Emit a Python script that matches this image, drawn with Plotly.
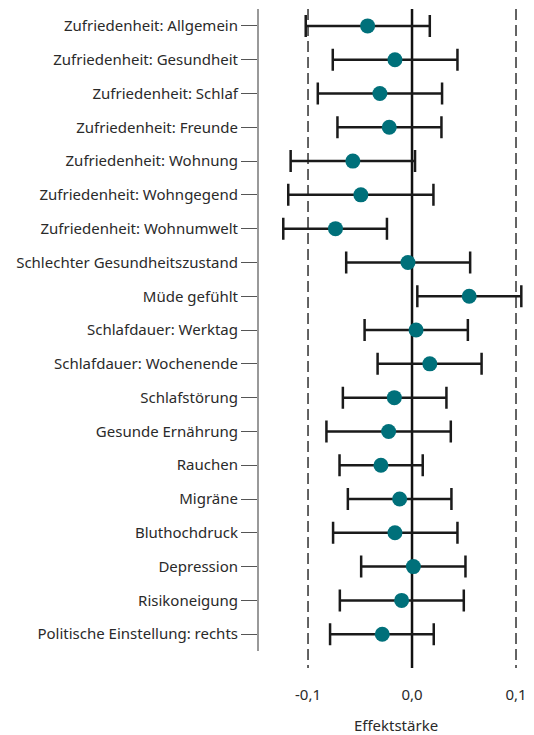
import plotly.graph_objects as go

labels = [
    "Zufriedenheit: Allgemein",
    "Zufriedenheit: Gesundheit",
    "Zufriedenheit: Schlaf",
    "Zufriedenheit: Freunde",
    "Zufriedenheit: Wohnung",
    "Zufriedenheit: Wohngegend",
    "Zufriedenheit: Wohnumwelt",
    "Schlechter Gesundheitszustand",
    "Müde gefühlt",
    "Schlafdauer: Werktag",
    "Schlafdauer: Wochenende",
    "Schlafstörung",
    "Gesunde Ernährung",
    "Rauchen",
    "Migräne",
    "Bluthochdruck",
    "Depression",
    "Risikoneigung",
    "Politische Einstellung: rechts",
]
estimate = [-0.0427, -0.0164, -0.0309, -0.0219, -0.0569, -0.0492, -0.0736,
            -0.0039, 0.0550, 0.0039, 0.0171, -0.0170, -0.0225, -0.0299,
            -0.0119, -0.0164, 0.0013, -0.0100, -0.0286]
lower = [-0.1022, -0.0762, -0.0906, -0.0717, -0.1167, -0.1190, -0.1238,
         -0.0633, 0.0051, -0.0456, -0.0331, -0.0665, -0.0823, -0.0697,
         -0.0617, -0.0759, -0.0489, -0.0694, -0.0788]
upper = [0.0171, 0.0437, 0.0289, 0.0283, 0.0029, 0.0206, -0.0241,
         0.0559, 0.1051, 0.0537, 0.0669, 0.0331, 0.0373, 0.0103,
         0.0379, 0.0437, 0.0514, 0.0498, 0.0209]
x_tickvals = [-0.1, 0.0, 0.1]
x_ticktext = ["-0,1", "0,0", "0,1"]

idx = list(range(len(labels)))
err_plus = [u - e for u, e in zip(upper, estimate)]
err_minus = [e - l for e, l in zip(estimate, lower)]

fig = go.Figure()
fig.add_trace(go.Scatter(
    x=estimate, y=idx, mode="markers",
    marker=dict(size=15, color="#00707A"),
    error_x=dict(type="data", symmetric=False, array=err_plus, arrayminus=err_minus,
                 color="#1a1a1a", thickness=2.5, width=11),
    showlegend=False, hoverinfo="skip",
))

shapes = []
shapes.append(dict(type="line", xref="x", yref="y", x0=0, x1=0, y0=-0.5, y1=19,
                   line=dict(color="#111111", width=2.5), layer="below"))
for v in (-0.1, 0.1):
    shapes.append(dict(type="line", xref="x", yref="y", x0=v, x1=v, y0=-0.5, y1=19,
                       line=dict(color="#111111", width=1.3, dash="11px,5px"), layer="below"))
shapes.append(dict(type="line", xref="paper", yref="y", x0=0, x1=0, y0=-0.5, y1=18.5,
                   line=dict(color="#555555", width=1.2), layer="below"))

fig.update_layout(
    width=526, height=727,
    margin=dict(l=250, r=0, t=1, b=67, autoexpand=False),
    plot_bgcolor="white", paper_bgcolor="white",
    font=dict(family="Noto Sans", size=15, color="#2a2a2a"),
    shapes=shapes,
    xaxis=dict(range=[-0.1481, 0.1173], tickvals=x_tickvals, ticktext=x_ticktext,
               showgrid=False, zeroline=False, showline=False, ticks="",
               ticklabelstandoff=16, tickfont=dict(size=15),
               title=dict(text="Effektstärke", standoff=23, font=dict(size=15))),
    yaxis=dict(range=[19, -0.5], tickvals=idx, ticktext=labels,
               showgrid=False, zeroline=False, showline=False,
               ticks="outside", ticklen=16, tickcolor="#555555", tickwidth=1.2,
               tickfont=dict(size=15)),
)
fig.write_html("out.html")
